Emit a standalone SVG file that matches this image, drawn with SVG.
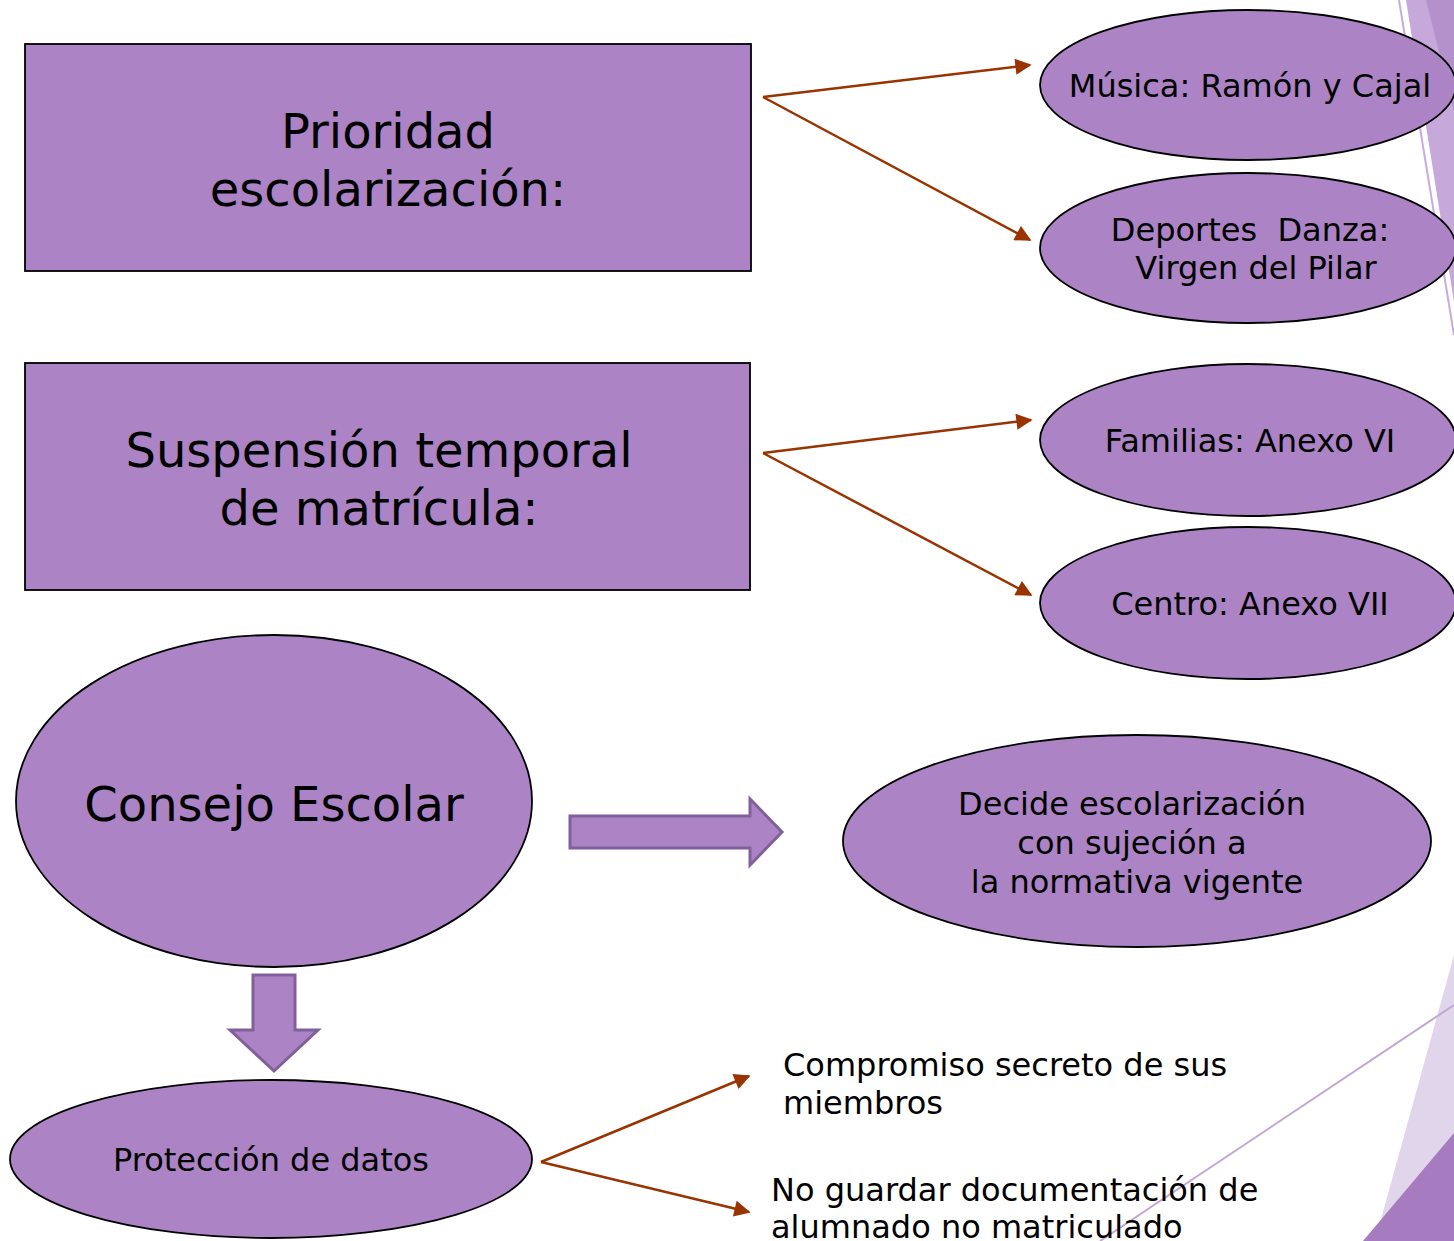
<svg xmlns="http://www.w3.org/2000/svg" width="1454" height="1241" viewBox="0 0 1454 1241">
<defs>
<style>
.n{fill:#ac84c6;stroke:#000;stroke-width:1.8}
.t{font-family:"DejaVu Sans",Verdana,sans-serif;fill:#000;text-anchor:middle}
.big{font-size:48px}
.sm{font-size:32px}
.lt{font-family:"DejaVu Sans",Verdana,sans-serif;fill:#000;font-size:32px}
.c{stroke:#993300;stroke-width:2.5;fill:none;marker-end:url(#ah)}
.blk{fill:#ac84c6;stroke:#80609a;stroke-width:3;stroke-linejoin:miter}
</style>
<marker id="ah" viewBox="0 0 10 10" refX="9" refY="5" markerWidth="7.5" markerHeight="6.5" markerUnits="strokeWidth" orient="auto">
<path d="M0,0 L10,5 L0,10 z" fill="#993300"/>
</marker>
</defs>
<rect width="1454" height="1241" fill="#fff"/>
<g id="background">
<polygon points="1406,0 1454,0 1454,302" fill="#c6a8da"/>
<polygon points="1426,0 1454,0 1454,112" fill="#b591cc"/>
<line x1="1399" y1="0" x2="1454" y2="335" stroke="#c6ace0" stroke-width="2"/>
<polygon points="1454,955 1454,1241 1375,1241" fill="#e1d5eb"/>
<polygon points="1454,1133 1454,1241 1363,1241" fill="#a67bbf"/>
<line x1="1454" y1="1005" x2="1100" y2="1241" stroke="#c3a5d6" stroke-width="2"/>
</g>
<g id="prioridad">
<rect class="n" x="25" y="44" width="726" height="227"/>
<text class="t big" x="388" y="148">Prioridad</text>
<text class="t big" x="388" y="206">escolarización:</text>
</g>
<g id="suspension">
<rect class="n" x="25" y="363" width="725" height="227"/>
<text class="t big" x="379" y="467">Suspensión temporal</text>
<text class="t big" x="379" y="525">de matrícula:</text>
</g>
<g id="musica">
<ellipse class="n" cx="1248" cy="85" rx="208" ry="75"/>
<text class="t sm" x="1250" y="97">Música: Ramón y Cajal</text>
</g>
<g id="deportes">
<ellipse class="n" cx="1248" cy="248" rx="208" ry="75"/>
<text class="t sm" x="1250" y="241" xml:space="preserve">Deportes  Danza:</text>
<text class="t sm" x="1256" y="279">Virgen del Pilar</text>
</g>
<g id="familias">
<ellipse class="n" cx="1248" cy="440" rx="208" ry="76"/>
<text class="t sm" x="1250" y="452">Familias: Anexo VI</text>
</g>
<g id="centro">
<ellipse class="n" cx="1248" cy="603" rx="208" ry="76"/>
<text class="t sm" x="1250" y="615">Centro: Anexo VII</text>
</g>
<g id="consejo">
<ellipse class="n" cx="274" cy="801" rx="258" ry="166"/>
<text class="t big" x="274" y="821">Consejo Escolar</text>
</g>
<g id="decide">
<ellipse class="n" cx="1137" cy="841" rx="294" ry="106"/>
<text class="t sm" x="1132" y="815">Decide escolarización</text>
<text class="t sm" x="1132" y="854">con sujeción a</text>
<text class="t sm" x="1137" y="893">la normativa vigente</text>
</g>
<g id="proteccion">
<ellipse class="n" cx="271" cy="1159" rx="261" ry="79"/>
<text class="t sm" x="271" y="1171">Protección de datos</text>
</g>
<g id="compromiso">
<text class="lt" x="783" y="1076">Compromiso secreto de sus</text>
<text class="lt" x="783" y="1114">miembros</text>
</g>
<g id="noguardar">
<text class="lt" x="771" y="1201">No guardar documentación de</text>
<text class="lt" x="771" y="1238">alumnado no matriculado</text>
</g>
<g id="connectors">
<line class="c" x1="763" y1="97" x2="1030" y2="65"/>
<line class="c" x1="763" y1="97" x2="1030" y2="240"/>
<line class="c" x1="763" y1="453" x2="1031" y2="420"/>
<line class="c" x1="763" y1="453" x2="1031" y2="595"/>
<line class="c" x1="541" y1="1162" x2="749" y2="1076"/>
<line class="c" x1="541" y1="1162" x2="749" y2="1212"/>
<polygon class="blk" points="570,816 750,816 750,799 782,832 750,865 750,848 570,848"/>
<polygon class="blk" points="253,975 295,975 295,1030 318,1030 274,1071 230,1030 253,1030"/>
</g>
</svg>
